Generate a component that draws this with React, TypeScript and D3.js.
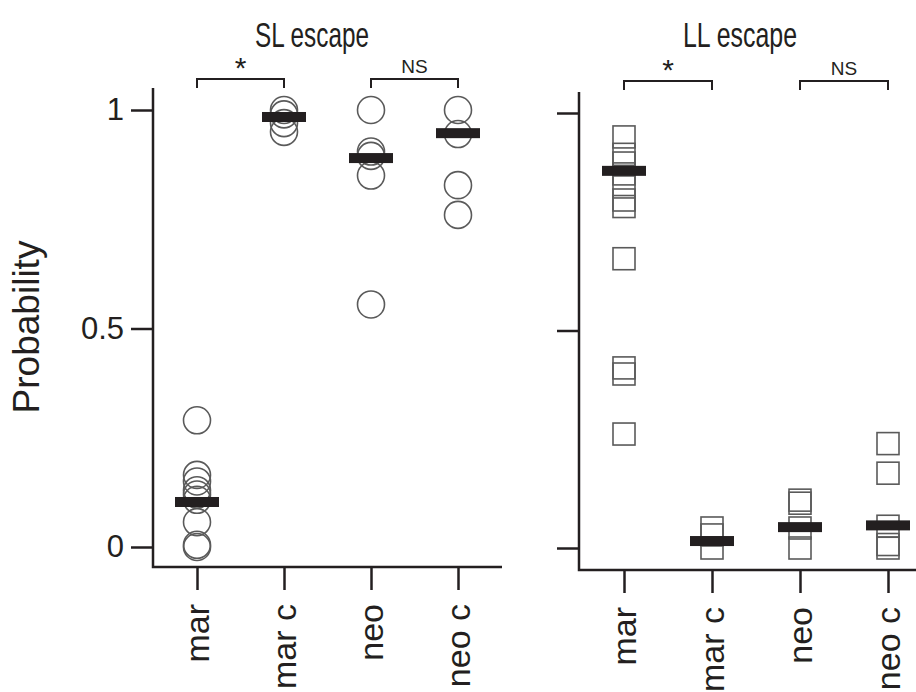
import React, { useEffect, useRef } from 'react';
import * as d3 from 'd3';

const categories = ['mar', 'mar c', 'neo', 'neo c'];
const yTicks = [0, 0.5, 1];
const yTickLabels = ['0', '0.5', '1'];

// SL escape (circles)
const slMar = [0.29, 0.165, 0.15, 0.13, 0.12, 0.108, 0.057, 0.005, 0.0];
const slMarC = [1.0, 0.99, 0.97, 0.95];
const slNeo = [1.0, 0.905, 0.895, 0.85, 0.555];
const slNeoC = [1.0, 0.945, 0.828, 0.76];
const slMeans = [0.103, 0.984, 0.89, 0.947];

// LL escape (squares)
const llMar = [0.945, 0.905, 0.885, 0.86, 0.83, 0.8, 0.785, 0.665, 0.414, 0.4, 0.262];
const llMarC = [0.046, 0.03, 0.0];
const llNeo = [0.11, 0.103, 0.046, 0.0];
const llNeoC = [0.24, 0.172, 0.05, 0.008, 0.0];
const llMeans = [0.867, 0.016, 0.048, 0.052];

const slSeries = [slMar, slMarC, slNeo, slNeoC];
const llSeries = [llMar, llMarC, llNeo, llNeoC];

const comparisons = [
  { from: 'mar', to: 'mar c', label: '*' },
  { from: 'neo', to: 'neo c', label: 'NS' },
];

const INK = '#231f20';
const MARK = '#5a5a5a';
const FONT = 'Liberation Sans, Arial, Helvetica, sans-serif';

const App = () => {
  const svgRef = useRef(null);

  useEffect(() => {
    const svg = d3.select(svgRef.current);
    svg.selectAll('*').remove();

    const panels = [
      {
        title: 'SL escape', titleX: 312,
        left: 153, right: 502, top: 88, bottom: 567,
        xRange: [197, 458], yRange: [547, 110],
        series: slSeries, means: slMeans, shape: 'circle', labels: true,
        bracketY: 79,
      },
      {
        title: 'LL escape', titleX: 740,
        left: 579, right: 916, top: 92, bottom: 570,
        xRange: [624, 888], yRange: [548, 113],
        series: llSeries, means: llMeans, shape: 'square', labels: false,
        bracketY: 81,
      },
    ];

    panels.forEach(p => {
      const x = d3.scalePoint().domain(categories).range(p.xRange);
      const y = d3.scaleLinear().domain([0, 1]).range(p.yRange);
      const g = svg.append('g');

      // title
      g.append('text')
        .attr('x', p.titleX)
        .attr('y', 47)
        .attr('text-anchor', 'middle')
        .attr('font-family', FONT)
        .attr('font-size', 35)
        .attr('fill', INK)
        .attr('textLength', 114)
        .attr('lengthAdjust', 'spacingAndGlyphs')
        .text(p.title);

      // frame lines
      g.append('path')
        .attr('d', `M${p.left},${p.top}V${p.bottom}H${p.right}`)
        .attr('fill', 'none')
        .attr('stroke', INK)
        .attr('stroke-width', 2.5);

      // y axis
      const yAxis = d3.axisLeft(y)
        .tickValues(yTicks)
        .tickSize(22)
        .tickPadding(7)
        .tickFormat((d, i) => (p.labels ? yTickLabels[i] : ''));
      const ya = g.append('g')
        .attr('transform', `translate(${p.left},0)`)
        .call(yAxis);
      ya.select('.domain').remove();
      ya.selectAll('line').attr('stroke', INK).attr('stroke-width', 2.5);
      ya.selectAll('text')
        .attr('font-family', FONT)
        .attr('font-size', 31)
        .attr('fill', INK);

      // x axis
      const xAxis = d3.axisBottom(x).tickSize(23);
      const xa = g.append('g')
        .attr('transform', `translate(0,${p.bottom})`)
        .call(xAxis);
      xa.select('.domain').remove();
      xa.selectAll('line').attr('stroke', INK).attr('stroke-width', 2.5);
      xa.selectAll('text')
        .attr('font-family', FONT)
        .attr('font-size', 34)
        .attr('fill', INK)
        .attr('transform', 'rotate(-90)')
        .attr('x', -37)
        .attr('y', 0)
        .attr('dy', '0.35em')
        .attr('text-anchor', 'end');

      // points
      p.series.forEach((vals, i) => {
        const cx = x(categories[i]);
        if (p.shape === 'circle') {
          g.selectAll(null)
            .data(vals)
            .enter()
            .append('circle')
            .attr('cx', cx)
            .attr('cy', d => y(d))
            .attr('r', 13.5)
            .attr('fill', 'none')
            .attr('stroke', MARK)
            .attr('stroke-width', 1.6);
        } else {
          g.selectAll(null)
            .data(vals)
            .enter()
            .append('rect')
            .attr('x', cx - 11)
            .attr('y', d => y(d) - 11)
            .attr('width', 22)
            .attr('height', 22)
            .attr('fill', 'none')
            .attr('stroke', MARK)
            .attr('stroke-width', 1.6);
        }
      });

      // mean bars
      g.selectAll(null)
        .data(p.means)
        .enter()
        .append('rect')
        .attr('x', (d, i) => x(categories[i]) - 22)
        .attr('y', d => y(d) - 5)
        .attr('width', 44)
        .attr('height', 10)
        .attr('fill', INK);

      // significance brackets
      comparisons.forEach(c => {
        const x1 = x(c.from);
        const x2 = x(c.to);
        g.append('path')
          .attr('d', `M${x1},${p.bracketY + 9}V${p.bracketY}H${x2}V${p.bracketY + 9}`)
          .attr('fill', 'none')
          .attr('stroke', INK)
          .attr('stroke-width', 2);
        const star = c.label === '*';
        g.append('text')
          .attr('x', (x1 + x2) / 2)
          .attr('y', star ? p.bracketY - 1 : p.bracketY - 6)
          .attr('text-anchor', 'middle')
          .attr('font-family', FONT)
          .attr('font-size', star ? 30 : 19)
          .attr('fill', INK)
          .text(c.label);
      });
    });

    // y label
    svg.append('text')
      .attr('transform', 'translate(39,327) rotate(-90)')
      .attr('text-anchor', 'middle')
      .attr('font-family', FONT)
      .attr('font-size', 37)
      .attr('fill', INK)
      .text('Probability');
  }, []);

  return (
    <svg
      ref={svgRef}
      width={916}
      height={692}
      style={{ position: 'absolute', left: 0, top: 0, background: '#fff' }}
    ></svg>
  );
};

export default App;
